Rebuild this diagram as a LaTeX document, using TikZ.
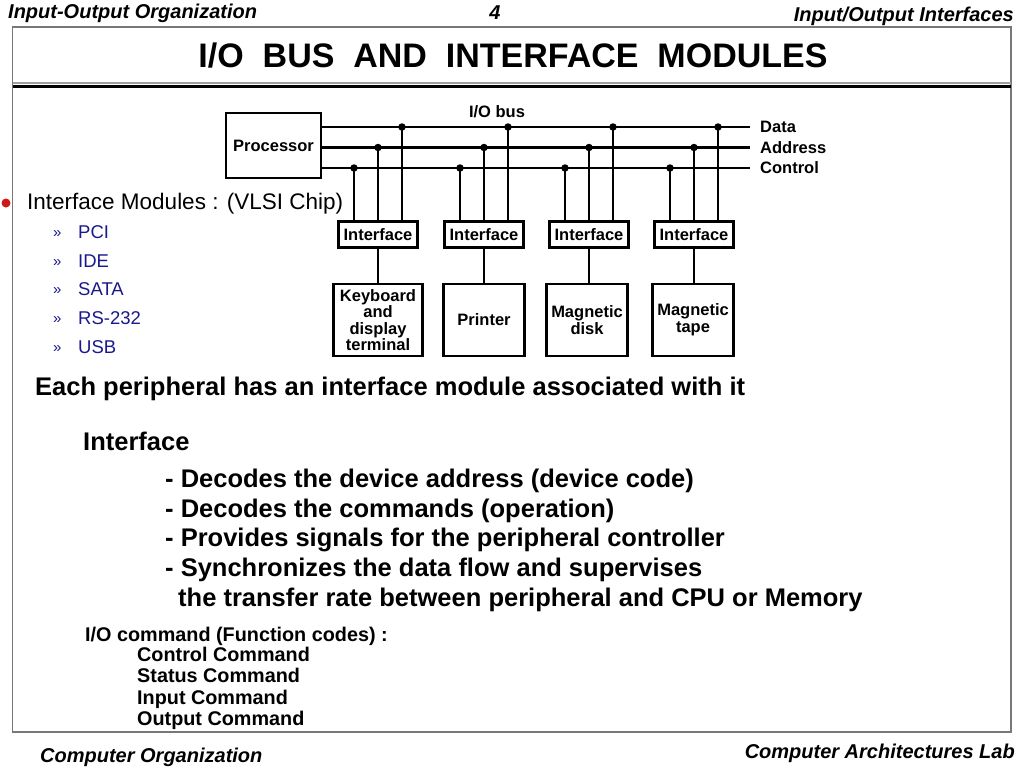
\documentclass[tikz,border=0pt]{standalone}
\usepackage{fontspec}
\setmainfont{Liberation Sans}
\usetikzlibrary{positioning,calc}
\definecolor{sred}{RGB}{205,25,25}
\definecolor{snavy}{RGB}{25,25,140}
\definecolor{sframe}{RGB}{120,120,120}
\definecolor{sline}{RGB}{160,160,160}
\newcommand{\fsz}[1]{\fontsize{#1}{#1}\selectfont}
\tikzset{
  box/.style={rectangle,draw,line width=2.4pt,align=center,
              font=\fsz{16.5}\bfseries,inner sep=2pt},
  ifbox/.style={box,minimum width=79pt,minimum height=26pt},
  devbox/.style={box,minimum width=81pt,minimum height=72pt},
  bus/.style={line width=2.4pt},
  tap/.style={circle,fill,inner sep=0pt,minimum size=7.5pt},
  lbl/.style={inner sep=2pt,font=\fsz{16.5}\bfseries},
  txt/.style={anchor=base west,inner sep=0pt,font=\fsz{25.5}\bfseries},
  cmd/.style={anchor=base west,inner sep=0pt,font=\fsz{19.8}\bfseries},
  item/.style={anchor=base west,inner sep=0pt,text=snavy,font=\fsz{18.5}},
  quote/.style={anchor=base west,inner sep=0pt,text=snavy,font=\fsz{15}},
  head/.style={inner sep=0pt,font=\fsz{20}\bfseries\itshape},
}

\begin{document}
\begin{tikzpicture}[x=1pt,y=-1pt]
  \useasboundingbox (0,0) rectangle (1024,768);
  % slide frame and title rule
  \draw[sframe,line width=1.3pt] (12.5,27) rectangle (1011,732);
  \draw[sline,line width=1.5pt] (12.5,83) -- (1011,83);
  \draw[line width=3.5pt] (12.5,86.7) -- (1011,86.7);

  \node[head,anchor=base west] (hleft) at (8,19) {Input-Output Organization};
  \node[head,anchor=base] (hpage) at (495,20) {4};
  \node[head,anchor=base east] (hright) at (1014,22) {Input/Output Interfaces};
  \node[head,anchor=base west] (fleft) at (40,762) {Computer Organization};
  \node[head,anchor=base east] (fright) at (1015,758) {Computer Architectures Lab};
  \node[inner sep=0pt,anchor=base,font=\fsz{34}\bfseries] (title) at (513,67)
     {I/O\ \ BUS\ \ AND\ \ INTERFACE\ \ MODULES};

  % bus diagram
  \node[box,minimum width=95pt,minimum height=65pt] (proc) at (273.5,145.5) {Processor};
  \coordinate (dataE) at (750,127);
  \coordinate (addrE) at (750,147.5);
  \coordinate (ctrlE) at (750,168);
  \draw[bus] (proc.east |- dataE) -- (dataE);
  \draw[bus] (proc.east |- addrE) -- (addrE);
  \draw[bus] (proc.east |- ctrlE) -- (ctrlE);
  \node[lbl,anchor=west,right=8pt of dataE] (data) {Data};
  \node[lbl,anchor=west,right=8pt of addrE] (addr) {Address};
  \node[lbl,anchor=west,right=8pt of ctrlE] (ctrl) {Control};
  \node[lbl] (busname) at (497,112) {I/O bus};

  \node[ifbox] (if1) at (378,234.5) {Interface};
  \node[ifbox] (if2) at (484,234.5) {Interface};
  \node[ifbox] (if3) at (589,234.5) {Interface};
  \node[ifbox] (if4) at (694,234.5) {Interface};

  \draw[bus] ($(if1.north)+(-24,0)$) -- ($(if1.north |- ctrlE)+(-24,0)$) node[tap]{};
  \draw[bus] (if1.north) -- (if1.north |- addrE) node[tap]{};
  \draw[bus] ($(if1.north)+(24,0)$) -- ($(if1.north |- dataE)+(24,0)$) node[tap]{};
  \draw[bus] ($(if2.north)+(-24,0)$) -- ($(if2.north |- ctrlE)+(-24,0)$) node[tap]{};
  \draw[bus] (if2.north) -- (if2.north |- addrE) node[tap]{};
  \draw[bus] ($(if2.north)+(24,0)$) -- ($(if2.north |- dataE)+(24,0)$) node[tap]{};
  \draw[bus] ($(if3.north)+(-24,0)$) -- ($(if3.north |- ctrlE)+(-24,0)$) node[tap]{};
  \draw[bus] (if3.north) -- (if3.north |- addrE) node[tap]{};
  \draw[bus] ($(if3.north)+(24,0)$) -- ($(if3.north |- dataE)+(24,0)$) node[tap]{};
  \draw[bus] ($(if4.north)+(-24,0)$) -- ($(if4.north |- ctrlE)+(-24,0)$) node[tap]{};
  \draw[bus] (if4.north) -- (if4.north |- addrE) node[tap]{};
  \draw[bus] ($(if4.north)+(24,0)$) -- ($(if4.north |- dataE)+(24,0)$) node[tap]{};

  \node[devbox,minimum width=89pt,below=34pt of if1] (kbd) {Keyboard\\and\\display\\terminal};
  \node[devbox,below=34pt of if2] (prn) {Printer};
  \node[devbox,below=34pt of if3,xshift=-2pt] (disk) {Magnetic\\disk};
  \node[devbox,below=34pt of if4,xshift=-1pt] (tape) {Magnetic\\tape};
  \draw[bus] (if1.south) -- (kbd.north);
  \draw[bus] (if2.south) -- (prn.north);
  \draw[bus] (if3.south) -- (if3.south |- disk.north);
  \draw[bus] (if4.south) -- (if4.south |- tape.north);

  % bullet list
  \node[circle,fill=sred,minimum size=9pt,inner sep=0pt] (bdot) at (6,203) {};
  \node[anchor=base west,inner sep=0pt,font=\fsz{22.5}] (modules) at (27,209)
     {Interface Modules : (VLSI Chip)};
  \node[quote] (q1) at (53,237) {»};
  \node[item] (pci) at (78,238.5) {PCI};
  \node[quote] (q2) at (53,266) {»};
  \node[item] (ide) at (78,267) {IDE};
  \node[quote] (q3) at (53,294.5) {»};
  \node[item] (sata) at (78,295.5) {SATA};
  \node[quote] (q4) at (53,323) {»};
  \node[item] (rs) at (78,324) {RS-232};
  \node[quote] (q5) at (53,352) {»};
  \node[item] (usb) at (78,353) {USB};

  % text body
  \node[txt] (each) at (35,395) {Each peripheral has an interface module associated with it};
  \node[txt] (iface) at (83,450) {Interface};
  \node[txt] (l1) at (165,487) {- Decodes the device address (device code)};
  \node[txt] (l2) at (165,517) {- Decodes the commands (operation)};
  \node[txt] (l3) at (165,546) {- Provides signals for the peripheral controller};
  \node[txt] (l4) at (165,576) {- Synchronizes the data flow and supervises};
  \node[txt] (l5) at (178,606) {the transfer rate between peripheral and CPU or Memory};
  \node[cmd] (iocmd) at (85,641) {I/O command (Function codes) :};
  \node[cmd] (c1) at (137,661.5) {Control Command};
  \node[cmd] (c2) at (137,682.5) {Status Command};
  \node[cmd] (c3) at (137,704) {Input Command};
  \node[cmd] (c4) at (137,725) {Output Command};
\end{tikzpicture}
\end{document}
